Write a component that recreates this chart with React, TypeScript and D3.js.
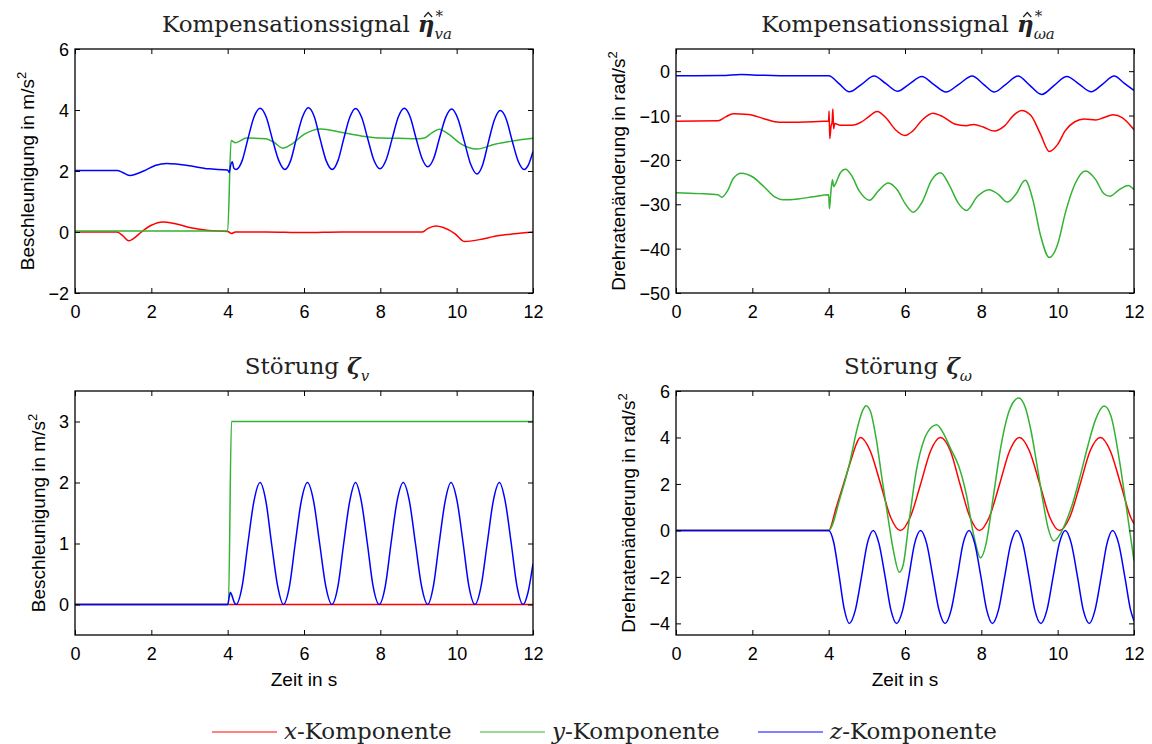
import React, { useEffect, useRef } from 'react'
import * as d3 from 'd3'

type Pt = [number, number]

const timeTicks = [0, 2, 4, 6, 8, 10, 12]
const seriesColors = ['#ff0000', '#33b233', '#0000ff']
const legendNames = ['x', 'y', 'z']

// Kompensationssignal eta_va  (m/s^2)
const etaVaTicks = [-2, 0, 2, 4, 6]
const etaVaX: Pt[] = [[0, 0], [1.1, 0], [1.25, -0.12], [1.41, -0.29], [1.55, -0.2], [1.74, 0], [2.0, 0.22], [2.3, 0.33], [2.6, 0.28], [3.0, 0.15], [3.5, 0.05], [4.0, 0.02], [4.1, -0.05], [4.2, 0], [5, 0], [6, -0.02], [7, 0], [8, 0], [9.1, 0], [9.25, 0.12], [9.45, 0.2], [9.65, 0.15], [9.95, -0.05], [10.2, -0.31], [10.6, -0.25], [11, -0.14], [11.5, -0.06], [12, 0]]
const etaVaY: Pt[] = [[0, 0.03], [4.0, 0.03], [4.09, 3.0], [4.2, 2.93], [4.5, 3.08], [5.0, 3.06], [5.2, 2.95], [5.45, 2.75], [5.7, 2.9], [6.0, 3.2], [6.44, 3.38], [7.0, 3.26], [7.5, 3.15], [8.0, 3.08], [8.5, 3.07], [9.0, 3.06], [9.15, 3.08], [9.35, 3.25], [9.54, 3.37], [9.8, 3.2], [10.1, 2.9], [10.53, 2.72], [11.0, 2.88], [11.5, 2.99], [12, 3.07]]
const etaVaZ: Pt[] = [[0, 2.02], [1.1, 2.02], [1.25, 1.95], [1.45, 1.85], [1.6, 1.9], [1.8, 2.0], [2.1, 2.18], [2.4, 2.25], [2.7, 2.22], [3.0, 2.17], [3.5, 2.07], [4.0, 2.03], [4.04, 1.95], [4.08, 2.2], [4.12, 2.3], [4.16, 2.1], [4.22, 2.05],
  [4.38, 2.34], [4.53, 3.05], [4.69, 3.77], [4.85, 4.06], [5.01, 3.77], [5.17, 3.05], [5.34, 2.34], [5.5, 2.05],
  [5.65, 2.34], [5.8, 3.06], [5.96, 3.77], [6.11, 4.07], [6.27, 3.78], [6.42, 3.06], [6.58, 2.34], [6.74, 2.05],
  [6.89, 2.34], [7.04, 3.05], [7.2, 3.76], [7.35, 4.05], [7.51, 3.76], [7.67, 3.06], [7.83, 2.36], [7.99, 2.07],
  [8.15, 2.36], [8.31, 3.06], [8.47, 3.77], [8.63, 4.06], [8.78, 3.78], [8.93, 3.1], [9.09, 2.42], [9.24, 2.14],
  [9.4, 2.42], [9.55, 3.08], [9.71, 3.75], [9.87, 4.03], [10.03, 3.72], [10.2, 2.97], [10.37, 2.21], [10.53, 1.9],
  [10.68, 2.2], [10.83, 2.94], [10.99, 3.68], [11.14, 3.98], [11.3, 3.7], [11.45, 3.01], [11.61, 2.33], [11.77, 2.05],
  [11.88, 2.2], [12, 2.64]]

// Kompensationssignal eta_wa  (rad/s^2)
const etaWaTicks = [-50, -40, -30, -20, -10, 0]
const etaWaX: Pt[] = [[0, -11.26], [1.1, -11.2], [1.3, -10.3], [1.5, -9.6], [1.9, -9.75], [2.3, -10.7], [2.7, -11.5], [3.2, -11.5], [4.0, -11.25], [4.01, -9], [4.03, -15.2], [4.06, -12.5], [4.09, -11.5], [4.11, -8.5], [4.13, -13], [4.16, -11.8], [4.3, -12.2], [4.6, -12.2], [4.85, -11.5], [5.0, -10.6], [5.27, -9.1], [5.5, -10.5], [5.75, -13.2], [6.0, -14.5], [6.2, -13.5], [6.45, -11], [6.73, -9.46], [7.0, -10.3], [7.3, -11.9], [7.6, -12.3], [7.8, -12.0], [8.05, -12.6], [8.34, -13.5], [8.6, -12.4], [8.85, -9.9], [9.05, -8.86], [9.3, -10], [9.55, -14.2], [9.78, -18.1], [10.0, -16.5], [10.2, -13.4], [10.45, -11.4], [10.7, -10.8], [11.0, -11.0], [11.2, -10.5], [11.45, -9.8], [11.7, -10.5], [12, -13.2]]
const etaWaY: Pt[] = [[0, -27.4], [0.6, -27.6], [1.1, -27.85], [1.2, -28.4], [1.35, -27], [1.5, -24.2], [1.71, -23], [2.0, -23.8], [2.3, -26], [2.6, -28.4], [2.8, -29], [3.2, -28.8], [3.6, -28.3], [4.0, -27.85], [4.02, -31], [4.06, -27], [4.1, -24.5], [4.13, -26], [4.2, -25], [4.3, -23], [4.44, -22.1], [4.6, -23.5], [4.8, -27], [5.07, -29.1], [5.3, -27], [5.56, -25.2], [5.8, -26.8], [6.0, -29.8], [6.22, -31.8], [6.45, -29.5], [6.7, -24.5], [6.93, -22.9], [7.15, -25.5], [7.4, -29.8], [7.61, -31.4], [7.9, -28.2], [8.2, -26.7], [8.45, -27.8], [8.68, -29.5], [8.9, -27.8], [9.15, -24.6], [9.35, -29], [9.55, -37], [9.78, -42], [10.0, -39], [10.2, -32], [10.45, -25.5], [10.73, -22.5], [11.0, -24.5], [11.2, -27.5], [11.37, -28.2], [11.6, -26.8], [11.85, -25.75], [12, -26.7]]
const etaWaZ: Pt[] = [[0, -1.05], [1.2, -1.0], [1.7, -0.75], [2.2, -0.9], [3, -1.05], [4.0, -1.05], [4.27, -2.8], [4.54, -4.65], [4.87, -2.9], [5.19, -1.1], [5.5, -2.8], [5.8, -4.5], [6.12, -2.85], [6.44, -1.2], [6.75, -2.95], [7.07, -4.7], [7.42, -2.9], [7.76, -1.1], [8.05, -2.9], [8.34, -4.7], [8.65, -2.9], [8.96, -1.1], [9.27, -3.2], [9.58, -5.25], [9.91, -3.2], [10.24, -1.2], [10.56, -2.9], [10.88, -4.65], [11.18, -2.9], [11.48, -1.1], [11.74, -2.7], [12, -4.35]]

// Stoerung zeta_v  (m/s^2)
const zetaVTicks = [0, 1, 2, 3]
const zetaVX: Pt[] = [[0, 0], [12, 0]]
const zetaVY: Pt[] = [[0, 0], [4.02, 0], [4.1, 3], [12, 3]]
const zetaVZ: Pt[] = [[0, 0], [4.0, 0], [4.04, 0.12], [4.07, 0.2], [4.11, 0.15], [4.17, 0.04], [4.22, 0],
  [4.38, 0.3], [4.53, 1.0], [4.69, 1.7], [4.85, 2], [5.0, 1.7], [5.15, 1.0], [5.31, 0.3], [5.46, 0],
  [5.62, 0.3], [5.77, 1.0], [5.93, 1.7], [6.09, 2], [6.25, 1.7], [6.41, 1.0], [6.57, 0.3], [6.73, 0],
  [6.89, 0.3], [7.04, 1.0], [7.2, 1.7], [7.35, 2], [7.5, 1.7], [7.66, 1.0], [7.81, 0.3], [7.97, 0],
  [8.13, 0.3], [8.28, 1.0], [8.44, 1.7], [8.6, 2], [8.76, 1.7], [8.92, 1.0], [9.08, 0.3], [9.24, 0],
  [9.39, 0.3], [9.54, 1.0], [9.7, 1.7], [9.85, 2], [10.01, 1.7], [10.17, 1.0], [10.32, 0.3], [10.48, 0],
  [10.64, 0.3], [10.8, 1.0], [10.96, 1.7], [11.12, 2], [11.27, 1.7], [11.43, 1.0], [11.58, 0.3], [11.74, 0],
  [11.87, 0.2], [12, 0.67]]

// Stoerung zeta_w  (rad/s^2)
const zetaWTicks = [-4, -2, 0, 2, 4, 6]
const zetaWX: Pt[] = [[0, 0], [4.0, 0], [4.2, 1.0], [4.4, 2.05], [4.6, 3.1], [4.72, 3.7], [4.83, 4],
  [5.09, 3.42], [5.36, 2], [5.62, 0.58], [5.88, 0], [6.14, 0.58], [6.41, 2], [6.67, 3.42], [6.93, 4],
  [7.19, 3.42], [7.44, 2], [7.7, 0.58], [7.95, 0], [8.21, 0.58], [8.48, 2], [8.74, 3.42], [9.0, 4],
  [9.26, 3.42], [9.53, 2], [9.79, 0.58], [10.05, 0], [10.32, 0.58], [10.59, 2], [10.85, 3.42], [11.12, 4],
  [11.38, 3.42], [11.65, 2], [11.91, 0.58], [12, 0.29]]
const zetaWY: Pt[] = [[0, 0], [4.0, 0], [4.3, 1.4], [4.55, 2.9], [4.75, 4.4], [4.9, 5.2], [4.98, 5.37], [5.1, 5.1], [5.25, 3.9], [5.4, 2.2], [5.55, 0.6], [5.7, -0.9], [5.85, -1.8], [5.95, -1.5], [6.1, 0.3], [6.3, 2.6], [6.5, 3.9], [6.7, 4.45], [6.83, 4.55], [7.0, 4.2], [7.2, 3.5], [7.4, 2.8], [7.6, 1.6], [7.8, -0.2], [7.98, -1.18], [8.12, -0.6], [8.3, 1.3], [8.5, 3.5], [8.7, 5.0], [8.85, 5.55], [8.98, 5.7], [9.15, 5.3], [9.3, 4.3], [9.45, 2.9], [9.6, 1.4], [9.75, 0.1], [9.9, -0.45], [10.05, -0.2], [10.2, 0.3], [10.4, 1.2], [10.6, 2.4], [10.8, 3.7], [11.0, 4.8], [11.22, 5.35], [11.4, 4.9], [11.6, 3.2], [11.8, 1.0], [12, -1.3]]
const zetaWZ: Pt[] = [[0, 0], [4.0, 0], [4.13, -0.5], [4.27, -1.9], [4.41, -3.4], [4.54, -4],
  [4.7, -3.42], [4.86, -2], [5.01, -0.58], [5.17, 0], [5.32, -0.58], [5.48, -2], [5.63, -3.42], [5.78, -4],
  [5.94, -3.42], [6.1, -2], [6.25, -0.58], [6.41, 0], [6.57, -0.58], [6.73, -2], [6.89, -3.42], [7.05, -4],
  [7.21, -3.42], [7.37, -2], [7.52, -0.58], [7.68, 0], [7.83, -0.58], [7.99, -2], [8.14, -3.42], [8.29, -4],
  [8.45, -3.42], [8.61, -2], [8.77, -0.58], [8.93, 0], [9.09, -0.58], [9.25, -2], [9.4, -3.42], [9.56, -4],
  [9.72, -3.42], [9.88, -2], [10.04, -0.58], [10.2, 0], [10.36, -0.58], [10.52, -2], [10.67, -3.42], [10.83, -4],
  [10.98, -3.42], [11.14, -2], [11.29, -0.58], [11.44, 0], [11.6, -0.58], [11.76, -2], [11.91, -3.42], [12, -3.9]]

const W = 458
const H = 244
const SERIF = 'DejaVu Serif'
const SANS = 'Liberation Sans, Arial, sans-serif'
const TITLE_SIZE = 23

const panels = [
  { key: 'a', left: 75, top: 49, yDomain: [-2, 6], yTicks: etaVaTicks, series: [etaVaX, etaVaY, etaVaZ],
    title: 'Kompensationssignal', sym: 'η', hat: true, sup: '*', sub: 'va', ylabel: 'Beschleunigung in m/s', xlabel: false },
  { key: 'b', left: 676, top: 49, yDomain: [-50, 5], yTicks: etaWaTicks, series: [etaWaX, etaWaY, etaWaZ],
    title: 'Kompensationssignal', sym: 'η', hat: true, sup: '*', sub: 'ωa', ylabel: 'Drehratenänderung in rad/s', xlabel: false },
  { key: 'c', left: 75, top: 391, yDomain: [-0.5, 3.5], yTicks: zetaVTicks, series: [zetaVX, zetaVY, zetaVZ],
    title: 'Störung', sym: 'ζ', hat: false, sup: '', sub: 'v', ylabel: 'Beschleunigung in m/s', xlabel: true },
  { key: 'd', left: 676, top: 391, yDomain: [-4.5, 6], yTicks: zetaWTicks, series: [zetaWX, zetaWY, zetaWZ],
    title: 'Störung', sym: 'ζ', hat: false, sup: '', sub: 'ω', ylabel: 'Drehratenänderung in rad/s', xlabel: true },
]

function styleAxis(g: any) {
  g.select('.domain').remove()
  g.selectAll('line').attr('stroke', '#000').attr('stroke-width', 1)
  g.selectAll('text').attr('font-family', SANS).attr('font-size', 18).attr('fill', '#000')
}

function drawTitle(svg: any, cx: number, baseline: number, p: any) {
  const g = svg.append('g')
  const t1 = g.append('text').attr('x', 0).attr('y', 0)
    .attr('font-family', SERIF).attr('font-size', TITLE_SIZE).attr('fill', '#222').text(p.title)
  const w1 = t1.node().getComputedTextLength() + 8
  const t2 = g.append('text').attr('x', w1).attr('y', 0)
    .attr('font-family', SERIF).attr('font-size', TITLE_SIZE).attr('font-weight', 'bold').attr('font-style', 'italic')
    .attr('fill', '#222').text(p.sym)
  const w2 = t2.node().getComputedTextLength()
  if (p.hat) {
    // circumflex accent over eta
    const hx = w1 + w2 / 2 + 2
    g.append('path').attr('d', `M${hx - 4},-15 L${hx},-19.5 L${hx + 4},-15`)
      .attr('fill', 'none').attr('stroke', '#222').attr('stroke-width', 1.3)
  }
  let w3 = 0
  if (p.sup) {
    const t3 = g.append('text').attr('x', w1 + w2 + 1).attr('y', -11)
      .attr('font-family', SERIF).attr('font-size', 15).attr('fill', '#222').text(p.sup)
    w3 = t3.node().getComputedTextLength()
  }
  const t4 = g.append('text').attr('x', w1 + w2).attr('y', 7)
    .attr('font-family', SERIF).attr('font-size', 15).attr('font-style', 'italic').attr('fill', '#222').text(p.sub)
  const w4 = t4.node().getComputedTextLength()
  const total = w1 + w2 + Math.max(w3, w4)
  g.attr('transform', `translate(${cx - total / 2},${baseline})`)
}

function drawPanel(svg: any, p: any) {
  const x = d3.scaleLinear().domain([0, 12]).range([p.left, p.left + W])
  const y = d3.scaleLinear().domain(p.yDomain).range([p.top + H, p.top])
  const clipId = 'clip-' + p.key
  svg.append('clipPath').attr('id', clipId).append('rect')
    .attr('x', p.left).attr('y', p.top).attr('width', W).attr('height', H)

  const line = d3.line<Pt>().x(d => x(d[0])).y(d => y(d[1])).curve(d3.curveMonotoneX)
  const lines = svg.append('g').attr('clip-path', `url(#${clipId})`)
  p.series.forEach((s: Pt[], i: number) => {
    lines.append('path').datum(s).attr('d', line).attr('fill', 'none')
      .attr('stroke', seriesColors[i]).attr('stroke-width', 1.5).attr('stroke-linejoin', 'round')
  })

  // axes, MATLAB style: ticks inward on all four sides
  svg.append('g').attr('transform', `translate(0,${p.top + H})`)
    .call(d3.axisBottom(x).tickValues(timeTicks).tickSizeInner(-5).tickSizeOuter(0).tickPadding(12.5).tickFormat(d3.format('d')))
    .call(styleAxis)
  svg.append('g').attr('transform', `translate(0,${p.top})`)
    .call(d3.axisTop(x).tickValues(timeTicks).tickSizeInner(-5).tickSizeOuter(0).tickFormat(() => ''))
    .call(styleAxis)
  const yAxis = svg.append('g').attr('transform', `translate(${p.left},0)`)
    .call(d3.axisLeft(y).tickValues(p.yTicks).tickSizeInner(-5).tickSizeOuter(0).tickPadding(6).tickFormat(d3.format('d')))
    .call(styleAxis)
  yAxis.selectAll('text').attr('dy', '0.36em')
  svg.append('g').attr('transform', `translate(${p.left + W},0)`)
    .call(d3.axisRight(y).tickValues(p.yTicks).tickSizeInner(-5).tickSizeOuter(0).tickFormat(() => ''))
    .call(styleAxis)

  svg.append('rect').attr('x', p.left).attr('y', p.top).attr('width', W).attr('height', H)
    .attr('fill', 'none').attr('stroke', '#000').attr('stroke-width', 1.3)

  // y label placed left of the widest tick label
  let minX = p.left
  yAxis.selectAll('text').each(function (this: any) {
    const b = this.getBBox()
    minX = Math.min(minX, p.left + b.x)
  })
  const lx = minX - 14
  const cy = p.top + H / 2
  const yl = svg.append('text').attr('transform', `translate(${lx},${cy}) rotate(-90)`)
    .attr('text-anchor', 'middle').attr('font-family', SANS).attr('font-size', 19).attr('fill', '#000')
  yl.append('tspan').text(p.ylabel)
  yl.append('tspan').attr('dy', -8).attr('font-size', 13).text('2')

  if (p.xlabel) {
    svg.append('text').attr('x', p.left + W / 2).attr('y', p.top + H + 51)
      .attr('text-anchor', 'middle').attr('font-family', SANS).attr('font-size', 19).attr('fill', '#000')
      .text('Zeit in s')
  }

  drawTitle(svg, p.left + W / 2 + 3, p.top - 17, p)
}

function drawLegend(svg: any) {
  const starts = [212, 480, 758]
  legendNames.forEach((n, i) => {
    const x0 = starts[i]
    svg.append('line').attr('x1', x0).attr('x2', x0 + 65).attr('y1', 732).attr('y2', 732)
      .attr('stroke', seriesColors[i]).attr('stroke-width', 1.5).attr('opacity', 0.65)
    const t = svg.append('text').attr('x', x0 + 72).attr('y', 739)
      .attr('font-family', SERIF).attr('font-size', TITLE_SIZE).attr('fill', '#222')
    t.append('tspan').attr('font-style', 'italic').text(n)
    t.append('tspan').text('-Komponente')
  })
}

export default function App() {
  const ref = useRef<SVGSVGElement>(null)
  useEffect(() => {
    document.body.style.margin = '0'
    const svg = d3.select(ref.current)
    svg.selectAll('*').remove()
    svg.append('rect').attr('width', 1152).attr('height', 744).attr('fill', '#fff')
    panels.forEach(p => drawPanel(svg, p))
    drawLegend(svg)
  }, [])
  return <svg ref={ref} width={1152} height={744} style={{ display: 'block' }} />
}
